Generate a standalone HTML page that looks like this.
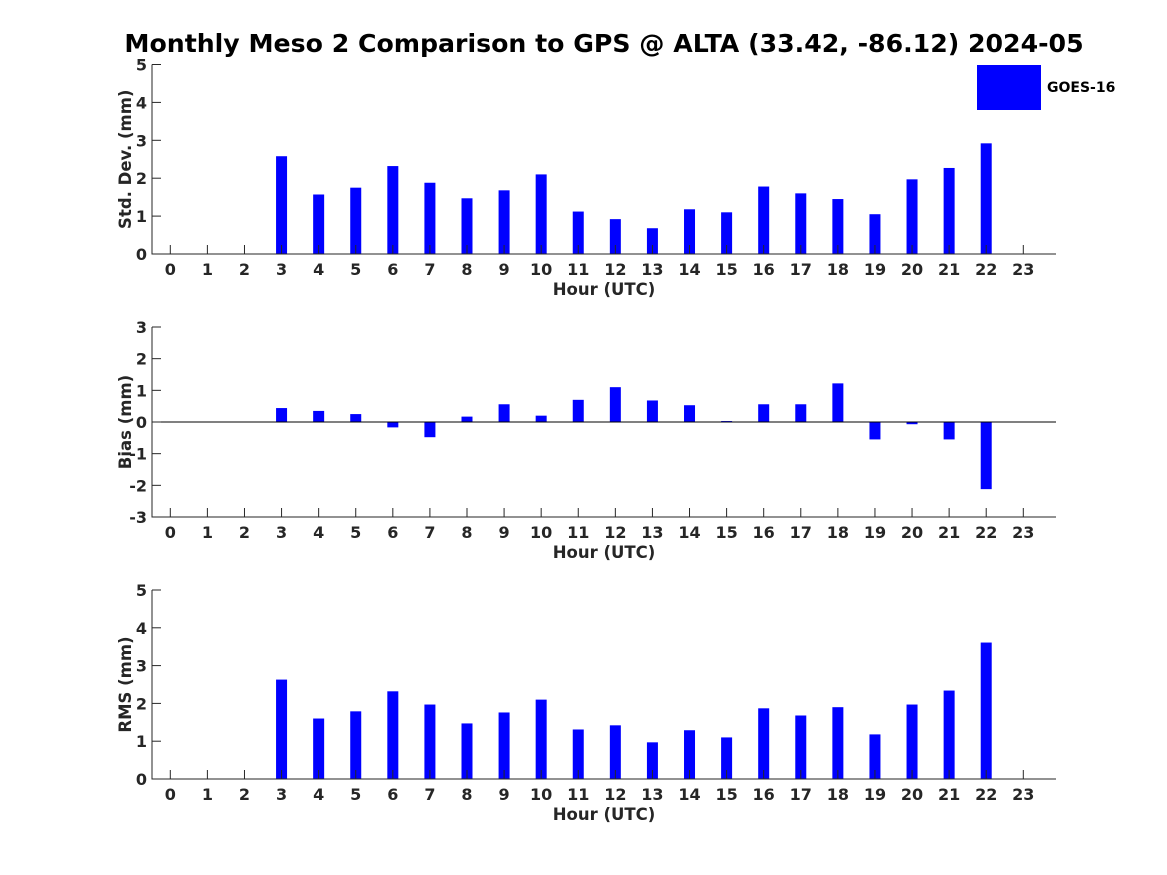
<!DOCTYPE html>
<html><head><meta charset="utf-8"><style>
html,body{margin:0;padding:0;background:#fff}
svg{display:block}
text{font-family:"DejaVu Sans","Liberation Sans",sans-serif;font-weight:bold;fill:#262626}
</style></head><body>
<svg id="chart" width="1167" height="875" viewBox="0 0 1167 875" xmlns="http://www.w3.org/2000/svg">
<text x="604" y="52" text-anchor="middle" font-size="25.2" style="fill:#000">Monthly Meso 2 Comparison to GPS @ ALTA (33.42, -86.12) 2024-05</text>
<rect x="977" y="65" width="64" height="45" fill="#0000ff"/>
<text x="1047" y="92" font-size="14" style="fill:#000">GOES-16</text>
</svg>
<script>
const hours = [0,1,2,3,4,5,6,7,8,9,10,11,12,13,14,15,16,17,18,19,20,21,22,23];
const stdDev = [null,null,null,2.58,1.57,1.75,2.32,1.88,1.47,1.68,2.1,1.12,0.92,0.68,1.18,1.1,1.78,1.6,1.45,1.05,1.97,2.27,2.92,null];
const bias = [null,null,null,0.44,0.35,0.25,-0.17,-0.48,0.17,0.56,0.2,0.7,1.1,0.68,0.53,0.03,0.56,0.56,1.22,-0.55,-0.07,-0.55,-2.12,null];
const rms = [null,null,null,2.63,1.6,1.79,2.32,1.97,1.47,1.76,2.1,1.31,1.42,0.97,1.29,1.1,1.87,1.68,1.9,1.18,1.97,2.34,3.61,null];
const stdTicks = [0,1,2,3,4,5];
const biasTicks = [-3,-2,-1,0,1,2,3];
const rmsTicks = [0,1,2,3,4,5];

const NS = "http://www.w3.org/2000/svg";
const svg = document.getElementById('chart');
function mk(tag, attrs, parent){
  const e = document.createElementNS(NS, tag);
  for (const k in attrs) e.setAttribute(k, attrs[k]);
  (parent||svg).appendChild(e); return e;
}
const X0 = 152, X1 = 1056;
function xScale(h){ return 170.3 + h * (1023.3 - 170.3) / 23; }

function panel(name, values, ticks, top, bottom, ymin, ymax, ylabel, zeroLine){
  const g = mk('g', {});
  
  
  const y = v => bottom - (v - ymin) / (ymax - ymin) * (bottom - top);
  values.forEach((v, i) => {
    if (v === null) return;
    const y0 = y(0), y1 = y(v);
    const r = mk('rect', {x: xScale(hours[i]) - 5.5, y: Math.min(y0, y1), width: 11, height: Math.abs(y1 - y0), fill: '#0000ff'}, g);
    
    
  });
  if (zeroLine) {
    const z = mk('line', {x1: X0, x2: X1, y1: y(0), y2: y(0), stroke: '#000', 'stroke-width': 1}, g);
    
    
  }
  const ax = mk('path', {d: `M${X0},${top}V${bottom}H${X1}`, fill: 'none', stroke: '#262626', 'stroke-width': 1}, g);
  
  
  ticks.forEach(t => {
    const yy = y(t);
    mk('line', {x1: X0, x2: X0 + 9, y1: yy, y2: yy, stroke: '#262626'}, g);
    const tx = mk('text', {x: X0 - 5, y: yy + 6, 'text-anchor': 'end', 'font-size': 16}, g);
    tx.textContent = t;
    
    
  });
  hours.forEach(h => {
    const xx = xScale(h);
    mk('line', {x1: xx, x2: xx, y1: bottom, y2: bottom - 9, stroke: '#262626'}, g);
    const tx = mk('text', {x: xx, y: bottom + 21, 'text-anchor': 'middle', 'font-size': 16}, g);
    tx.textContent = h;
    
    
  });
  const xl = mk('text', {x: 604, y: bottom + 41, 'text-anchor': 'middle', 'font-size': 16.5}, g);
  xl.textContent = 'Hour (UTC)';
  
  
  const cy = (top + bottom) / 2;
  const yl = mk('text', {x: 131, y: cy, 'text-anchor': 'middle', 'font-size': 16.5, transform: `rotate(-90 131 ${cy})`}, g);
  yl.textContent = ylabel;
  
  
}
panel('std-dev', stdDev, stdTicks, 64.5, 254, 0, 5, 'Std. Dev. (mm)', false);
panel('bias', bias, biasTicks, 327, 517, -3, 3, 'Bias (mm)', true);
panel('rms', rms, rmsTicks, 590, 779, 0, 5, 'RMS (mm)', false);
</script>
</body></html>
